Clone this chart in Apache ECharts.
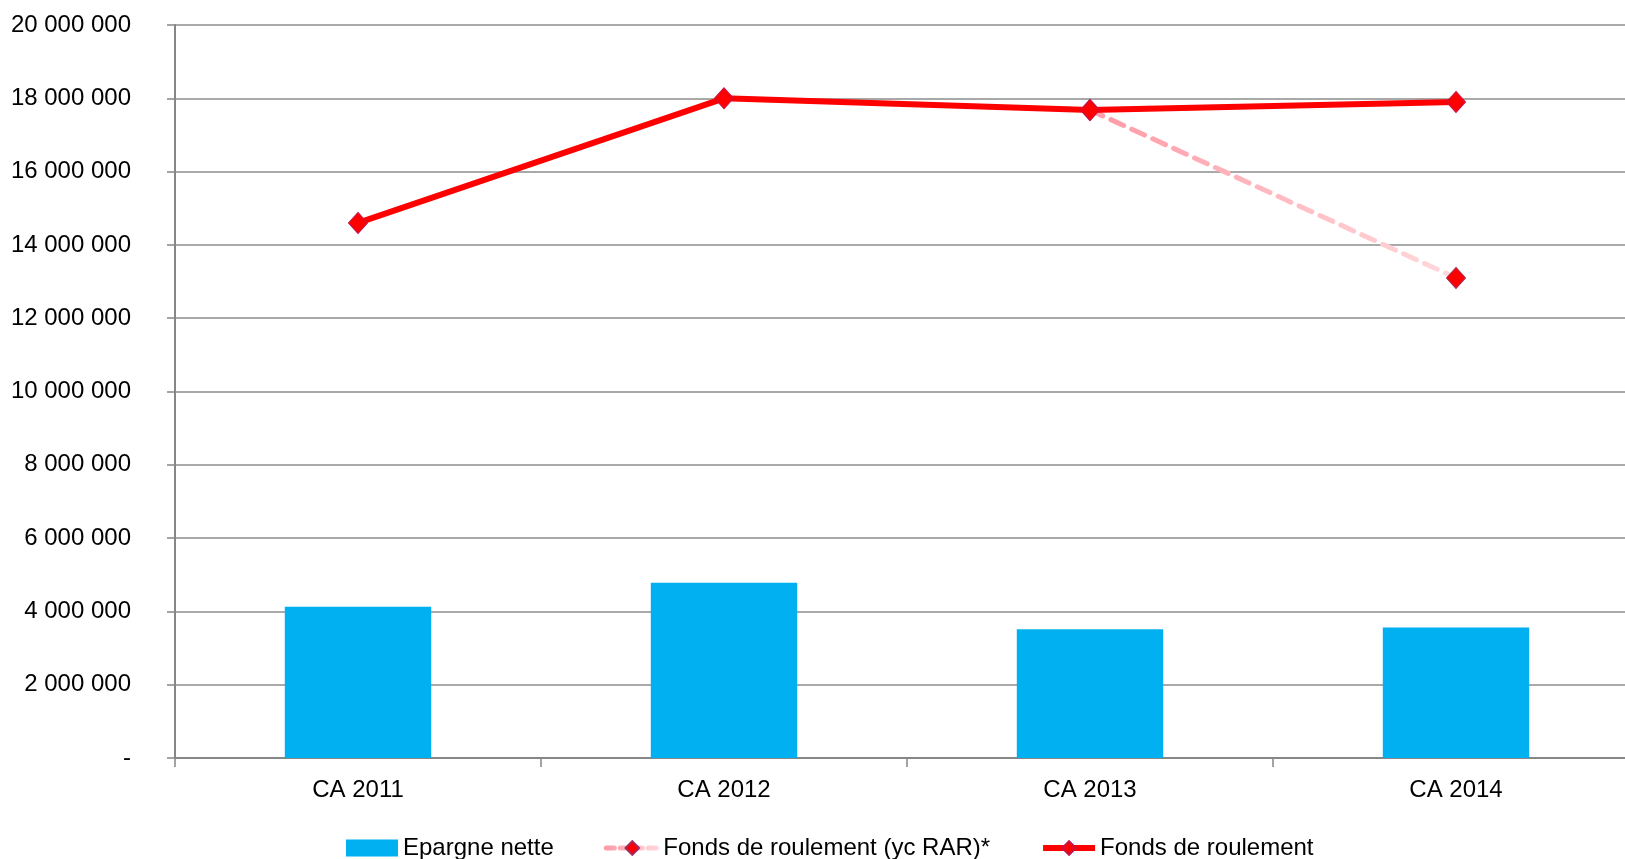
<!DOCTYPE html>
<html><head><meta charset="utf-8">
<script src="https://cdn.jsdelivr.net/npm/echarts@6/dist/echarts.min.js"></script>
<style>html,body{margin:0;padding:0;background:#fff;overflow:hidden;width:1625px;height:859px}#c{width:1640px;height:900px}</style>
</head><body><div id="c"></div>
<script>
const categories = ['CA 2011', 'CA 2012', 'CA 2013', 'CA 2014'];
const epargneNette = [4130000, 4780000, 3510000, 3560000];
const fdrRar = [null, null, 17680000, 13100000];
const fdr = [14600000, 18000000, 17680000, 17900000];
const yTicks = { min: 0, max: 20000000, interval: 2000000 };

const FONT = 'Liberation Sans';
function fmt(v) {
  if (v === 0) return '-';
  return String(Math.round(v)).replace(/\B(?=(\d{3})+(?!\d))/g, ' ');
}
const chart = echarts.init(document.getElementById('c'), null, { width: 1640, height: 900 });
chart.setOption({
  animation: false,
  grid: { left: 175, width: 1464, top: 25, height: 733, containLabel: false, outerBoundsMode: 'none' },
  legend: {
    left: 346, top: 836, padding: 0, itemWidth: 52, itemHeight: 17, itemGap: 50,
    textStyle: { fontFamily: FONT, fontSize: 24, color: '#000' },
    data: [
      { name: 'Epargne nette', icon: 'rect' },
      { name: 'Fonds de roulement (yc RAR)*', lineStyle: { width: 5, type: [8, 6] } },
      { name: 'Fonds de roulement', lineStyle: { width: 6 } }
    ]
  },
  xAxis: {
    type: 'category', data: categories, boundaryGap: true,
    axisLine: { lineStyle: { color: '#868686', width: 2 } },
    axisTick: { show: true, length: 9, alignWithLabel: false, lineStyle: { color: '#868686', width: 1.5 } },
    axisLabel: { fontFamily: FONT, fontSize: 24, color: '#000', margin: 20 }
  },
  yAxis: {
    type: 'value', min: yTicks.min, max: yTicks.max, interval: yTicks.interval,
    axisLine: { show: true, lineStyle: { color: '#868686', width: 2 } },
    axisTick: { show: true, length: 8, lineStyle: { color: '#868686', width: 1.5 } },
    splitLine: { lineStyle: { color: '#8c8c8c', width: 1.6 } },
    axisLabel: { fontFamily: FONT, fontSize: 24, color: '#000', margin: 44, formatter: fmt }
  },
  series: [
    {
      name: 'Epargne nette', type: 'bar', data: epargneNette, barWidth: '40%',
      itemStyle: { color: '#00b0f0' }
    },
    {
      name: 'Fonds de roulement (yc RAR)*', type: 'line', data: fdrRar,
      symbol: 'diamond', symbolSize: [19, 21], z: 3,
      lineStyle: {
        width: 5, type: [14, 9], cap: 'round',
        color: { type: 'linear', x: 0, y: 0, x2: 1, y2: 0,
          colorStops: [{ offset: 0, color: '#ff9aa6' }, { offset: 1, color: '#ffdadd' }] }
      },
      itemStyle: { color: '#ff0000', borderColor: '#a8285a', borderWidth: 1 }
    },
    {
      name: 'Fonds de roulement', type: 'line', data: fdr,
      symbol: 'diamond', symbolSize: [19, 21], z: 4,
      lineStyle: { width: 6, color: '#ff0000' },
      itemStyle: { color: '#ff0000', borderColor: '#c8104a', borderWidth: 1 }
    }
  ]
});
</script></body></html>
